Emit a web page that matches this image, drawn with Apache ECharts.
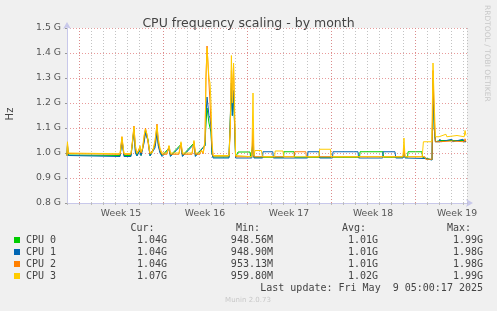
<!DOCTYPE html>
<html><head><meta charset="utf-8">
<script src="https://cdn.jsdelivr.net/npm/echarts@6/dist/echarts.min.js"></script>
<style>html,body{margin:0;padding:0;background:#f0f0f0;}#c{width:497px;height:311px;}</style>
</head><body><div id="c"></div>
<script>
// x: days since Monday 2025-04-07 00:00 (start of Week 15); y: frequency in G(Hz)
const weekStarts = [0, 7, 14, 21, 28];
const weekLabels = ['Week 15', 'Week 16', 'Week 17', 'Week 18', 'Week 19'];
const yTicks = [0.8, 0.9, 1.0, 1.1, 1.2, 1.3, 1.4, 1.5];

const cpuNames = ['CPU 0', 'CPU 1', 'CPU 2', 'CPU 3'];
const cpuColors = ['#00cc00', '#0066b3', '#ff8000', '#ffcc00'];
const curValues = ['1.04G', '1.04G', '1.04G', '1.07G'];
const minValues = ['948.56M', '948.90M', '953.13M', '959.80M'];
const avgValues = ['1.01G', '1.01G', '1.01G', '1.02G'];
const maxValues = ['1.99G', '1.98G', '1.98G', '1.99G'];
const lastUpdate = 'Last update: Fri May  9 05:00:17 2025';

const cpu0 = [[-1.0,0.99],[-0.96,1.03],[-0.9,0.992],[-0.83,0.99],[3.42,0.99],[3.58,1.055],[3.75,0.99],
 [4.33,0.99],[4.58,1.095],[4.7,1.01],[4.83,0.99],[5.08,1.015],[5.17,0.99],[5.42,1.05],[5.54,1.09],[5.67,1.065],
 [5.75,1.055],[5.92,0.99],[6.33,1.03],[6.5,1.1],[6.6,1.04],[6.75,1.005],[6.92,0.99],[7.5,1.02],[7.62,0.99],
 [8.5,1.035],[8.62,0.99],[9.58,1.04],[9.7,0.99],[10.5,1.03],[10.58,1.12],[10.67,1.18],[10.75,1.18],[10.83,1.12],
 [10.92,1.1],[11.0,1.084],[11.08,1.0],[11.17,0.984],[12.5,0.984],[12.7,1.26],[12.78,1.15],[12.88,1.24],[13.05,0.983],
 [13.2,0.983],[13.25,1.004],[14.25,1.004],[14.3,0.983],[14.4,0.983],[14.5,1.04],[14.58,0.983],
 [17.05,0.983],[17.08,1.005],[17.92,1.005],[17.97,0.983],[23.38,0.983],[23.42,1.005],[25.33,1.005],[25.38,0.983],
 [27.0,0.983],[27.08,1.0],[27.17,0.983],[27.38,0.983],[27.42,1.005],[28.58,1.005],[28.63,0.983],[28.83,0.98],
 [28.9,0.973],[29.42,0.973],[29.5,1.28],[29.6,1.1],[29.7,1.045],[30.08,1.05],[30.15,1.045],[31.08,1.05],[31.15,1.045],
 [32.0,1.05],[32.08,1.045],[32.25,1.045]];

const cpu1 = [[-1.0,0.99],[-0.96,1.03],[-0.9,0.99],[-0.83,0.986],[3.42,0.986],[3.58,1.05],[3.75,0.986],
 [4.33,0.986],[4.58,1.09],[4.7,1.0],[4.83,0.988],[5.08,1.01],[5.17,0.99],[5.42,1.04],[5.54,1.08],[5.67,1.06],
 [5.75,1.05],[5.92,0.988],[6.33,1.02],[6.5,1.08],[6.6,1.03],[6.75,1.0],[6.92,0.986],[7.5,1.015],[7.62,0.986],
 [8.5,1.03],[8.62,0.986],[9.58,1.035],[9.7,0.986],[10.5,1.03],[10.58,1.15],[10.67,1.224],[10.75,1.22],[10.83,1.15],
 [10.92,1.14],[11.0,1.1],[11.08,1.0],[11.17,0.98],[12.5,0.98],[12.7,1.28],[12.78,1.15],[12.88,1.25],[13.05,0.98],
 [14.4,0.98],[14.5,1.05],[14.58,0.98],[15.3,0.98],[15.33,1.005],[16.15,1.005],[16.2,0.98],
 [19.05,0.98],[19.08,1.005],[20.0,1.005],[20.05,0.98],[21.12,0.98],[21.17,1.005],[22.9,1.005],[23.0,1.012],
 [23.08,1.005],[23.25,1.005],[23.3,0.98],[25.3,0.98],[25.33,1.005],[26.33,1.005],[26.4,0.98],[27.0,0.98],
 [27.08,1.0],[27.17,0.98],[28.83,0.978],[28.9,0.972],[29.42,0.972],[29.5,1.3],[29.6,1.1],[29.7,1.045],
 [30.0,1.045],[30.08,1.055],[30.15,1.045],[31.08,1.055],[31.15,1.045],[32.0,1.055],[32.08,1.045],[32.25,1.045]];

const cpu2 = [[-1.0,0.99],[-0.96,1.04],[-0.9,0.998],[-0.83,0.995],[3.42,0.995],[3.5,1.03],[3.58,1.065],[3.67,1.02],
 [3.75,0.995],[4.33,0.995],[4.42,1.03],[4.58,1.108],[4.7,1.02],[4.83,0.998],[5.08,1.025],[5.17,1.0],[5.3,1.015],
 [5.42,1.06],[5.54,1.1],[5.67,1.07],[5.75,1.065],[5.85,1.01],[5.92,0.997],[6.2,1.015],[6.33,1.04],[6.5,1.116],
 [6.6,1.05],[6.75,1.01],[6.92,0.995],[7.33,0.995],[7.5,1.028],[7.62,0.995],[8.33,0.995],[8.5,1.04],[8.62,0.995],
 [9.42,0.995],[9.58,1.045],[9.7,0.995],[10.08,0.995],[10.2,1.01],[10.35,0.997],[10.5,1.05],[10.58,1.3],
 [10.67,1.428],[10.75,1.43],[10.83,1.28],[10.92,1.2],[11.0,1.12],[11.08,1.03],[11.17,0.988],[12.5,0.988],
 [12.6,1.08],[12.7,1.33],[12.78,1.22],[12.88,1.35],[12.96,1.15],[13.05,0.985],[14.4,0.985],[14.5,1.1],[14.58,0.985],
 [17.92,0.985],[17.97,1.005],[18.9,1.005],[18.95,0.985],[27.0,0.985],[27.08,1.02],[27.17,0.985],
 [28.83,0.985],[28.9,0.975],[29.42,0.975],[29.5,1.33],[29.6,1.15],[29.7,1.045],[30.0,1.045],[31.08,1.048],
 [32.1,1.045],[32.17,1.057],[32.25,1.045]];

const cpu3 = [[-1.0,0.99],[-0.96,1.045],[-0.9,1.0],[-0.83,0.997],[3.42,0.997],[3.5,1.03],[3.58,1.065],[3.67,1.03],
 [3.75,0.998],[4.33,0.998],[4.42,1.03],[4.58,1.105],[4.7,1.03],[4.83,1.0],[5.0,1.01],[5.08,1.03],[5.17,1.005],
 [5.3,1.02],[5.42,1.07],[5.54,1.095],[5.67,1.075],[5.75,1.07],[5.85,1.02],[5.92,1.0],[6.1,1.0],[6.2,1.02],
 [6.33,1.05],[6.5,1.11],[6.6,1.06],[6.75,1.02],[6.92,1.0],[7.33,1.0],[7.5,1.03],[7.62,1.0],[8.33,1.0],[8.5,1.045],
 [8.62,1.0],[9.42,1.0],[9.58,1.05],[9.7,1.0],[10.08,1.0],[10.2,1.012],[10.35,1.0],[10.5,1.05],[10.58,1.3],
 [10.67,1.42],[10.75,1.42],[10.83,1.3],[10.92,1.28],[11.0,1.2],[11.08,1.05],[11.17,0.99],[12.5,0.99],[12.6,1.1],
 [12.7,1.39],[12.78,1.2],[12.88,1.36],[12.96,1.2],[13.05,0.99],[13.1,0.985],[14.4,0.985],[14.5,1.24],[14.58,0.99],
 [14.67,1.01],[15.2,1.01],[15.28,0.985],[16.3,0.985],[16.35,1.008],[17.0,1.008],[17.05,0.985],[20.0,0.985],
 [20.05,1.015],[20.95,1.015],[21.0,0.985],[27.0,0.985],[27.08,1.06],[27.17,0.985],[28.6,0.985],[28.7,1.045],
 [29.4,1.045],[29.5,1.36],[29.6,1.2],[29.7,1.065],[30.0,1.065],[30.58,1.075],[30.65,1.065],[31.5,1.07],
 [32.1,1.065],[32.17,1.09],[32.25,1.07]];

const seriesData = [cpu0, cpu1, cpu2, cpu3];

const chart = echarts.init(document.getElementById('c'), null, {renderer: 'canvas'});
const SANS = 'DejaVu Sans';
const MONO = 'DejaVu Sans Mono';
const TXT = '#444';

const series = seriesData.map((d, i) => ({
  type: 'line', name: cpuNames[i], data: d, showSymbol: false, symbol: 'none',
  lineStyle: {width: 1, color: cpuColors[i]}, itemStyle: {color: cpuColors[i]},
  animation: false, silent: true, z: 3 + i
}));
// red major week grid lines
series.push({
  type: 'line', data: [], silent: true, z: 1,
  markLine: {
    silent: true, symbol: 'none', animation: false, label: {show: false},
    lineStyle: {color: 'rgba(225,120,120,0.75)', type: [1, 2], width: 1},
    data: weekStarts.map(w => ({xAxis: w}))
  }
});

const graphics = [];
const colX = [{h: 154.5, v: 167}, {h: 260, v: 273}, {h: 366, v: 378}, {h: 471, v: 483}];
['Cur:', 'Min:', 'Avg:', 'Max:'].forEach((t, k) => graphics.push({
  type: 'text', style: {text: t, x: colX[k].h, y: 228, font: '10px ' + MONO, fill: TXT, align: 'right', verticalAlign: 'middle'}
}));
const cols = [curValues, minValues, avgValues, maxValues];
cpuNames.forEach((n, i) => {
  const y = 240 + 12 * i;
  graphics.push({type: 'rect', shape: {x: 14, y: y - 3, width: 6, height: 6}, style: {fill: cpuColors[i]}});
  graphics.push({type: 'text', style: {text: n, x: 26, y: y, font: '10px ' + MONO, fill: TXT, align: 'left', verticalAlign: 'middle'}});
  cols.forEach((c, k) => graphics.push({
    type: 'text', style: {text: c[i], x: colX[k].v, y: y, font: '10px ' + MONO, fill: TXT, align: 'right', verticalAlign: 'middle'}
  }));
});
graphics.push({type: 'text', style: {text: lastUpdate, x: 483, y: 288, font: '10px ' + MONO, fill: TXT, align: 'right', verticalAlign: 'middle'}});
graphics.push({type: 'text', style: {text: 'Munin 2.0.73', x: 248, y: 300, font: '7px ' + SANS, fill: '#c8c8c8', align: 'center', verticalAlign: 'middle'}});
graphics.push({type: 'text', x: 487, y: 5, rotation: -Math.PI / 2,
  style: {text: 'RRDTOOL / TOBI OETIKER', x: 0, y: 0, font: '7.5px ' + SANS, fill: '#c8c8c8', align: 'left', verticalAlign: 'middle'}});
graphics.push({type: 'text', x: 10, y: 114, rotation: Math.PI / 2,
  style: {text: 'Hz', x: 0, y: 0, font: '10px ' + SANS, fill: TXT, align: 'center', verticalAlign: 'middle'}});

chart.setOption({
  backgroundColor: '#f0f0f0',
  animation: false,
  title: {text: 'CPU frequency scaling - by month', left: 'center', top: 12,
    textStyle: {fontFamily: SANS, fontSize: 12.5, fontWeight: 'normal', color: TXT}},
  grid: {left: 67, top: 28, width: 400, height: 175, show: true, backgroundColor: '#ffffff', borderWidth: 0},
  xAxis: {
    type: 'value', min: -1, max: 32.333, interval: 1,
    axisLine: {show: true, onZero: false, lineStyle: {color: '#c8c8ea', width: 1}, symbol: ['none', 'arrow'], symbolSize: [6, 7], symbolOffset: [0, 6]},
    axisTick: {show: true, length: 2, lineStyle: {color: '#bbbbbb'}},
    splitLine: {show: true, lineStyle: {color: 'rgba(175,175,175,0.75)', type: [1, 2], width: 1}},
    axisLabel: {
      show: true, customValues: weekStarts.map(w => w + 3.5), margin: 6,
      fontFamily: SANS, fontSize: 9.3, color: '#555',
      formatter: v => {
        const i = weekStarts.findIndex(w => Math.abs(w + 3.5 - v) < 0.01);
        return i >= 0 ? weekLabels[i] : '';
      }
    }
  },
  yAxis: {
    type: 'value', min: yTicks[0], max: yTicks[yTicks.length - 1], interval: 0.1,
    axisLine: {show: true, onZero: false, lineStyle: {color: '#c8c8ea', width: 1}, symbol: ['none', 'arrow'], symbolSize: [6, 7], symbolOffset: [0, 6]},
    axisTick: {show: true, length: 2, lineStyle: {color: '#999999'}},
    splitLine: {show: true, lineStyle: {color: 'rgba(225,120,120,0.75)', type: [1, 2], width: 1}},
    axisLabel: {margin: 6, fontFamily: SANS, fontSize: 9.3, color: '#555',
      formatter: v => v.toFixed(1) + ' G'}
  },
  graphic: graphics,
  series: series
});
</script>
</body></html>
